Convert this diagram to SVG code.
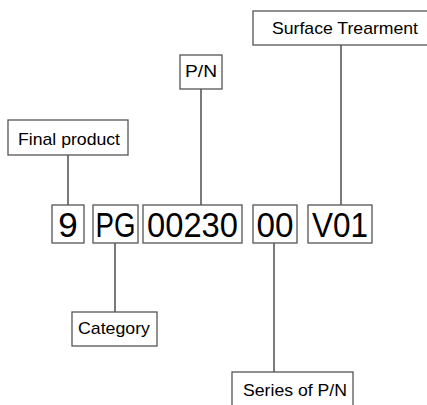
<svg xmlns="http://www.w3.org/2000/svg" width="427" height="405" viewBox="0 0 427 405">
<style>
.box{fill:#fff;stroke:#555;stroke-width:1.3}
.lbl{font-family:"Liberation Sans",Arial,sans-serif;font-size:17px;fill:#000}
.big{font-family:"Liberation Sans",Arial,sans-serif;font-size:35px;fill:#000;text-anchor:middle}
.conn line{stroke:#333;stroke-width:1.3}
</style>
<rect width="427" height="405" fill="#fff"/>
<g class="conn">
<line x1="341" y1="45" x2="341" y2="205"/>
<line x1="201" y1="89" x2="201" y2="205"/>
<line x1="68" y1="155" x2="68" y2="205"/>
<line x1="115" y1="243" x2="115" y2="312"/>
<line x1="274" y1="243" x2="274" y2="372"/>
</g>
<g id="surface"><rect class="box" x="253" y="11" width="180" height="34"/><text class="lbl" x="272" y="34" textLength="146" lengthAdjust="spacingAndGlyphs">Surface Trearment</text></g>
<g id="pn"><rect class="box" x="180" y="55" width="42" height="34"/><text class="lbl" x="185" y="77" textLength="32" lengthAdjust="spacingAndGlyphs">P/N</text></g>
<g id="final"><rect class="box" x="8" y="120" width="120" height="35"/><text class="lbl" x="18" y="145" textLength="102" lengthAdjust="spacingAndGlyphs">Final product</text></g>
<g id="n9"><rect class="box" x="52" y="205" width="32" height="38"/><text class="big" x="68" y="237">9</text></g>
<g id="nPG"><rect class="box" x="93" y="205" width="45" height="38"/><text class="big" x="115.5" y="237" textLength="40" lengthAdjust="spacingAndGlyphs">PG</text></g>
<g id="n00230"><rect class="box" x="143" y="205" width="99" height="38"/><text class="big" x="192.5" y="237" textLength="91" lengthAdjust="spacingAndGlyphs">00230</text></g>
<g id="n00"><rect class="box" x="253" y="205" width="44" height="38"/><text class="big" x="275" y="237" textLength="37" lengthAdjust="spacingAndGlyphs">00</text></g>
<g id="nV01"><rect class="box" x="308" y="205" width="64" height="38"/><text class="big" x="340" y="237" textLength="56" lengthAdjust="spacingAndGlyphs">V01</text></g>
<g id="category"><rect class="box" x="72" y="312" width="85" height="34"/><text class="lbl" x="78" y="334" textLength="72" lengthAdjust="spacingAndGlyphs">Category</text></g>
<g id="series"><rect class="box" x="232" y="372" width="121" height="40"/><text class="lbl" x="243" y="396" textLength="104" lengthAdjust="spacingAndGlyphs">Series of P/N</text></g>
</svg>
